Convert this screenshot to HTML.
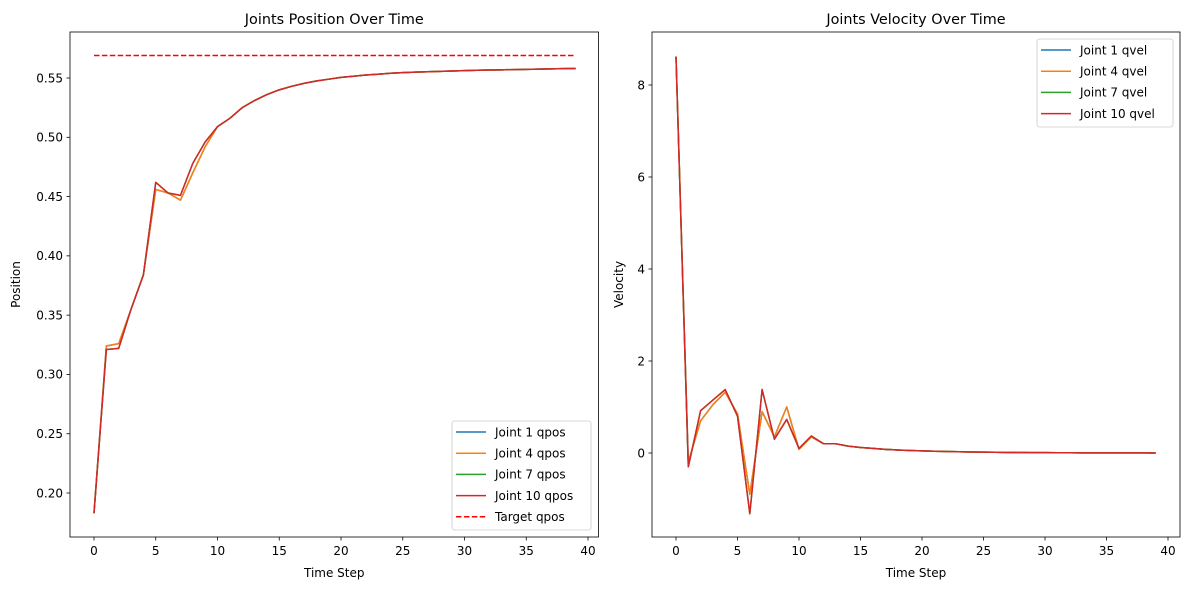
<!DOCTYPE html>
<html><head><meta charset="utf-8"><style>
body{margin:0;background:#fff;}
svg{display:block;font-family:"DejaVu Sans","Liberation Sans",sans-serif;}
</style></head><body>
<svg id="fig" width="1189" height="590" viewBox="0 0 1189 590" xmlns="http://www.w3.org/2000/svg"></svg>
<script>
const steps = Array.from({length:40},(_,i)=>i);
const posRed = [0.183,0.321,0.322,0.355,0.384,0.462,0.453,0.451,0.478,0.496,0.509,0.516,0.525,0.531,0.536,0.540,0.543,0.5455,0.5475,0.549,0.5505,0.5515,0.5525,0.5532,0.554,0.5545,0.555,0.5553,0.5556,0.5559,0.5562,0.5565,0.5567,0.5569,0.5571,0.5573,0.5575,0.5577,0.5579,0.558];
const posOrange = [0.183,0.324,0.326,0.355,0.384,0.456,0.453,0.447,0.470,0.492,0.509,0.516,0.525,0.531,0.536,0.540,0.543,0.5455,0.5475,0.549,0.5505,0.5515,0.5525,0.5532,0.554,0.5545,0.555,0.5553,0.5556,0.5559,0.5562,0.5565,0.5567,0.5569,0.5571,0.5573,0.5575,0.5577,0.5579,0.558];
const posBlue = posOrange.slice();
const posGreen = posRed.slice();
const targetPos = 0.569;
const velRed = [8.62,-0.3,0.92,1.15,1.38,0.8,-1.32,1.38,0.3,0.73,0.1,0.37,0.2,0.2,0.15,0.12,0.1,0.08,0.065,0.055,0.045,0.038,0.032,0.027,0.022,0.018,0.015,0.012,0.01,0.008,0.007,0.006,0.005,0.004,0.003,0.003,0.002,0.002,0.002,0.001];
const velOrange = [8.62,-0.2,0.7,1.05,1.32,0.85,-0.9,0.9,0.35,1.0,0.08,0.35,0.2,0.2,0.15,0.12,0.1,0.08,0.065,0.055,0.045,0.038,0.032,0.027,0.022,0.018,0.015,0.012,0.01,0.008,0.007,0.006,0.005,0.004,0.003,0.003,0.002,0.002,0.002,0.001];
const velBlue = velOrange.slice();
const velGreen = velRed.slice();
const xTicks = [0,5,10,15,20,25,30,35,40];
const posTicks = [0.20,0.25,0.30,0.35,0.40,0.45,0.50,0.55];
const velTicks = [0,2,4,6,8];

const NS="http://www.w3.org/2000/svg";
const svg=document.getElementById('fig');
function el(tag,attrs,parent){const e=document.createElementNS(NS,tag);for(const k in attrs)e.setAttribute(k,attrs[k]);(parent||svg).appendChild(e);return e;}

function panel(o){
  const g=el('g',{});
  
  
  const X=v=>o.x0px+(v-0)*(o.x40px-o.x0px)/40;
  const Y=v=>o.ya_px+(v-o.ya)*(o.yb_px-o.ya_px)/(o.yb-o.ya);
  // series
  const cols=['#1f77b4','#ff7f0e','#2ca02c','#d62728'];
  o.series.forEach((s,i)=>{
    const p=el('polyline',{points:s.map((v,j)=>X(steps[j]).toFixed(2)+','+Y(v).toFixed(2)).join(' '),fill:'none',stroke:cols[i],'stroke-width':1.5,'stroke-linejoin':'round'},g);
    
    
  });
  if(o.target!==undefined){
    const t=el('line',{x1:X(0),x2:X(39),y1:Y(o.target),y2:Y(o.target),stroke:'#ff0000','stroke-width':1.5,'stroke-dasharray':'5.5,2.4'},g);
    
    
  }
  // frame
  const f=el('rect',{x:o.L,y:o.T,width:o.R-o.L,height:o.B-o.T,fill:'none',stroke:'#000','stroke-width':0.8},g);
  
  
  xTicks.forEach(v=>{
    el('line',{x1:X(v),x2:X(v),y1:o.B,y2:o.B+3.5,stroke:'#000','stroke-width':0.8},g);
    const t=el('text',{x:X(v),y:o.B+18,'font-size':12,'text-anchor':'middle',fill:'#000'},g);
    t.textContent=v;
    
    
  });
  o.yTicks.forEach(v=>{
    el('line',{x1:o.L-3.5,x2:o.L,y1:Y(v),y2:Y(v),stroke:'#000','stroke-width':0.8},g);
    const t=el('text',{x:o.L-7,y:Y(v)+4.3,'font-size':12,'text-anchor':'end',fill:'#000'},g);
    t.textContent=o.fmt(v);
    
    
  });
  const title=el('text',{x:(o.L+o.R)/2,y:o.T-8,'font-size':14.4,'text-anchor':'middle',fill:'#000'},g);
  title.textContent=o.title;
  
  
  const xl=el('text',{x:(o.L+o.R)/2,y:577,'font-size':12,'text-anchor':'middle',fill:'#000'},g);
  xl.textContent='Time Step';
  
  
  const yl=el('text',{x:0,y:0,'font-size':12,'text-anchor':'middle',fill:'#000',transform:`translate(${o.ylx},${(o.T+o.B)/2}) rotate(-90)`},g);
  yl.textContent=o.ylabel;
  
  
  // legend
  const lg=el('g',{},g);
  
  
  el('rect',{x:o.lg.x,y:o.lg.y,width:o.lg.w,height:o.lg.h,rx:2.5,fill:'#fff','fill-opacity':0.8,stroke:'#cccccc','stroke-width':0.8},lg);
  o.legendItems.forEach((it,i)=>{
    const y=o.lg.y+11+i*21.2;
    const ln=el('line',{x1:o.lg.x+4,x2:o.lg.x+34,y1:y,y2:y,stroke:it.c,'stroke-width':1.5},lg);
    if(it.dash) ln.setAttribute('stroke-dasharray','5.5,2.4');
    const t=el('text',{x:o.lg.x+43,y:y+4.3,'font-size':12,fill:'#000'},lg);
    t.textContent=it.t;
    
    
  });
}

panel({name:'position-chart',L:70,R:598.5,T:32,B:537,x0px:94,x40px:588,ya:0.20,ya_px:493,yb:0.55,yb_px:78,
  series:[posBlue,posOrange,posGreen,posRed],labels:['1','4','7','10'],target:targetPos,yTicks:posTicks,fmt:v=>v.toFixed(2),
  title:'Joints Position Over Time',ylabel:'Position',ylx:20,
  lg:{x:452,y:421,w:139,h:109},
  legendItems:[{t:'Joint 1 qpos',c:'#1f77b4'},{t:'Joint 4 qpos',c:'#ff7f0e'},{t:'Joint 7 qpos',c:'#2ca02c'},{t:'Joint 10 qpos',c:'#d62728'},{t:'Target qpos',c:'#ff0000',dash:true}]});

panel({name:'velocity-chart',L:652,R:1180,T:32,B:537,x0px:676,x40px:1168,ya:0,ya_px:453,yb:8,yb_px:85,
  series:[velBlue,velOrange,velGreen,velRed],labels:['1','4','7','10'],yTicks:velTicks,fmt:v=>String(v),
  title:'Joints Velocity Over Time',ylabel:'Velocity',ylx:623,
  lg:{x:1037,y:39,w:136,h:88},
  legendItems:[{t:'Joint 1 qvel',c:'#1f77b4'},{t:'Joint 4 qvel',c:'#ff7f0e'},{t:'Joint 7 qvel',c:'#2ca02c'},{t:'Joint 10 qvel',c:'#d62728'}]});
</script>
</body></html>
